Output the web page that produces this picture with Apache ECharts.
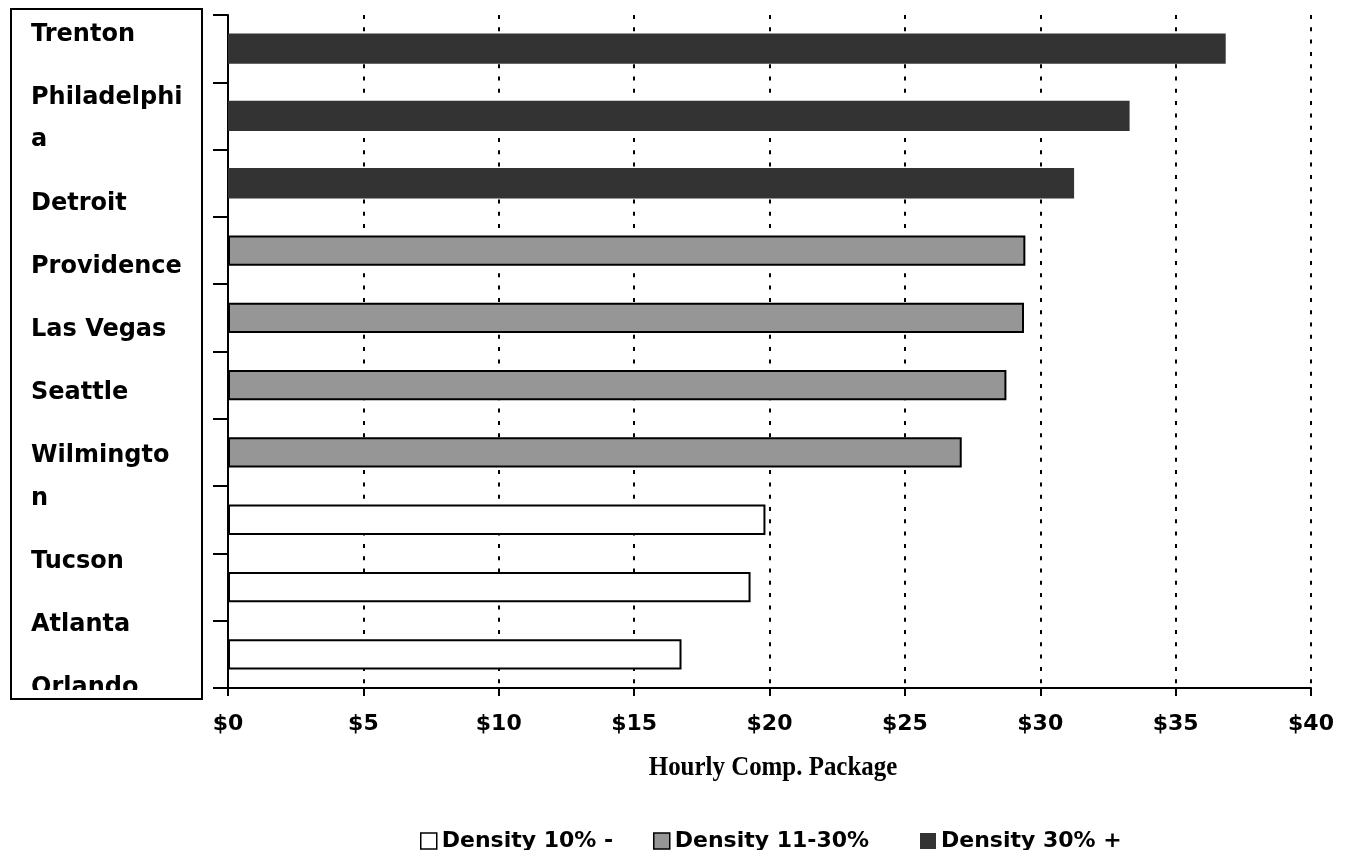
<!DOCTYPE html>
<html>
<head>
<meta charset="utf-8">
<title>Hourly Comp. Package by City</title>
<script src="https://cdn.jsdelivr.net/npm/echarts@6/dist/echarts.min.js"></script>
<style>
  html, body { margin: 0; padding: 0; background: #fff; }
  #chart { width: 1353px; height: 850px; }
</style>
</head>
<body>
<div id="chart"></div>
<script>
// Cities, top to bottom
const categories = ['Trenton', 'Philadelphia', 'Detroit', 'Providence', 'Las Vegas',
  'Seattle', 'Wilmington', 'Tucson', 'Atlanta', 'Orlando'];

// Hourly compensation package ($) by density group
const densityLow  = [null, null, null, null, null, null, null, 19.85, 19.3, 16.75];
const densityMid  = [null, null, null, 29.45, 29.4, 28.75, 27.1, null, null, null];
const densityHigh = [36.85, 33.3, 31.25, null, null, null, null, null, null, null];

const seriesNames = ['Density 10% -', 'Density 11-30%', 'Density 30% +'];

// Value axis ticks
const axisMin = 0;
const axisMax = 40;
const axisStep = 5;

// How the long city names wrap inside the label box
const wrappedLabels = {
  'Philadelphia': ['Philadelphi', 'a'],
  'Wilmington': ['Wilmingto', 'n']
};

const BOLD_SANS = 'DejaVu Sans';

// Boxed panel on the left holding the city names
function buildLabelPanel() {
  const els = [];
  els.push({
    type: 'rect', z: 10,
    shape: { x: 11, y: 9, width: 191, height: 690 },
    style: { fill: '#fff', stroke: 'none' }
  });
  let baseline = 41.5;
  const lineStep = 42.4;
  const labelStep = 63.2;
  categories.forEach(function (name) {
    const lines = wrappedLabels[name] || [name];
    lines.forEach(function (line, i) {
      if (i > 0) baseline += lineStep;
      els.push({
        type: 'text', z: 11,
        x: 31, y: baseline - 7,
        style: {
          text: line,
          fill: '#000',
          font: 'bold 24px "' + BOLD_SANS + '"',
          textAlign: 'left',
          textVerticalAlign: 'middle'
        }
      });
    });
    baseline += labelStep;
  });
  // the panel's bottom edge cuts off the last name
  els.push({
    type: 'rect', z: 12,
    shape: { x: 12, y: 690, width: 189, height: 9 },
    style: { fill: '#fff' }
  });
  els.push({
    type: 'rect', z: 13,
    shape: { x: 11, y: 9, width: 191, height: 690 },
    style: { fill: 'none', stroke: '#000', lineWidth: 2 }
  });
  return els;
}

const chart = echarts.init(document.getElementById('chart'), null, { renderer: 'canvas' });

const barBase = {
  type: 'bar',
  barGap: '-100%',
  barCategoryGap: '55%'
};

const legendIcons = [
  { color: '#fff', borderColor: '#000', borderWidth: 1.5 },
  { color: '#969696', borderColor: '#000', borderWidth: 1.5 },
  { color: '#333333', borderWidth: 0 }
];
const legendLefts = [415, 648, 915];

function buildLegends() {
  return seriesNames.map(function (name, i) {
    return {
      left: legendLefts[i],
      top: 825,
      itemWidth: 16,
      itemHeight: 16,
      icon: 'rect',
      textStyle: { fontFamily: BOLD_SANS, fontWeight: 'bold', fontSize: 22, color: '#000' },
      data: [{ name: name, itemStyle: legendIcons[i] }]
    };
  });
}

const option = {
  animation: false,
  backgroundColor: '#fff',
  grid: { left: 228, right: 42, top: 15, bottom: 162, containLabel: false },
  legend: buildLegends(),
  xAxis: {
    type: 'value',
    min: axisMin,
    max: axisMax,
    interval: axisStep,
    axisLine: { show: true, lineStyle: { color: '#000', width: 2 } },
    axisTick: { show: true, length: 8, lineStyle: { color: '#000', width: 2 } },
    axisLabel: {
      formatter: function (v) { return '$' + v; },
      fontFamily: BOLD_SANS,
      fontWeight: 'bold',
      fontSize: 22,
      color: '#000',
      margin: 25
    },
    splitLine: { show: true, lineStyle: { color: '#000', width: 2, type: [4, 8.3] } }
  },
  yAxis: {
    type: 'category',
    inverse: true,
    data: categories,
    axisLine: { show: true, lineStyle: { color: '#000', width: 2 } },
    axisTick: { show: true, length: 15, lineStyle: { color: '#000', width: 2 } },
    axisLabel: { show: false },
    splitLine: { show: false }
  },
  series: [
    Object.assign({}, barBase, {
      name: seriesNames[0], data: densityLow,
      itemStyle: { color: '#fff', borderColor: '#000', borderWidth: 2 }
    }),
    Object.assign({}, barBase, {
      name: seriesNames[1], data: densityMid,
      itemStyle: { color: '#969696', borderColor: '#000', borderWidth: 2 }
    }),
    Object.assign({}, barBase, {
      name: seriesNames[2], data: densityHigh,
      itemStyle: { color: '#333333', borderWidth: 0 }
    })
  ],
  graphic: buildLabelPanel().concat([
    {
      type: 'text', z: 10,
      x: 773, y: 768,
      scaleX: 0.89,
      style: {
        text: 'Hourly Comp. Package',
        fill: '#000',
        font: 'bold 28px "Liberation Serif"',
        textAlign: 'center',
        textVerticalAlign: 'middle'
      }
    }
  ])
};

chart.setOption(option);
</script>
</body>
</html>
